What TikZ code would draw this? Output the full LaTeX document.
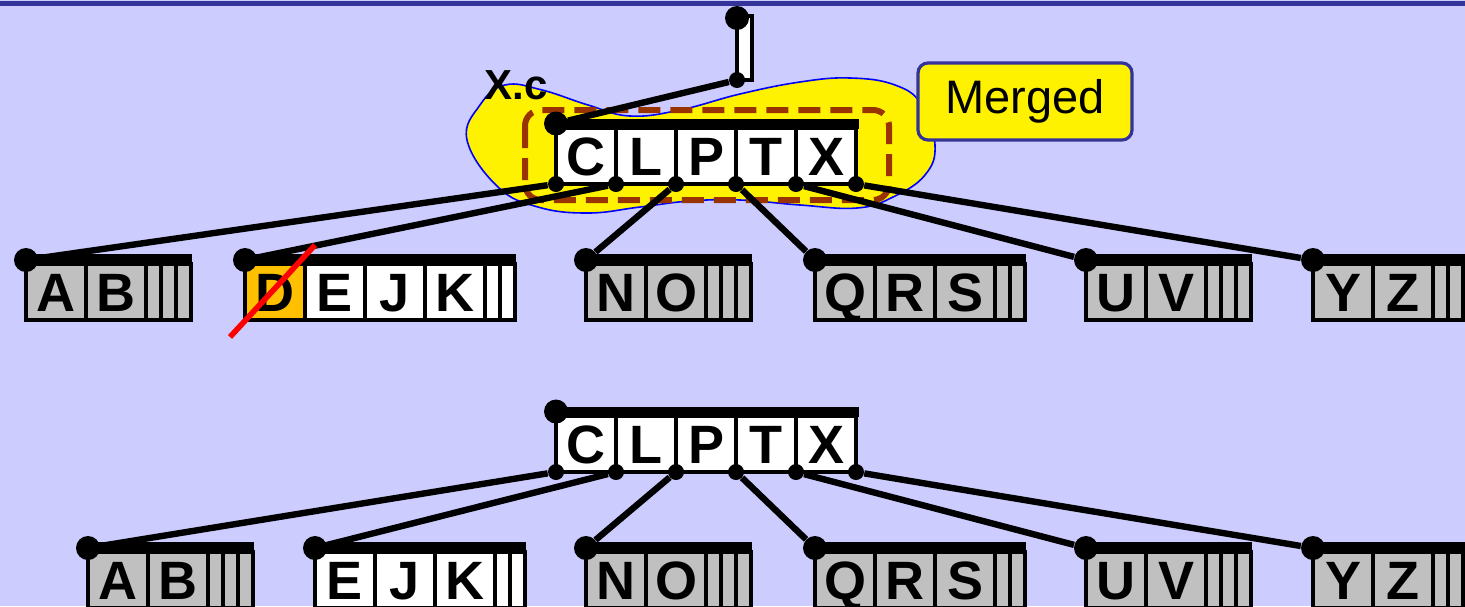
\documentclass[tikz,border=0pt]{standalone}
\usepackage{fontspec}
\setmainfont{Liberation Sans}
\usepackage{tikz}
\usetikzlibrary{positioning, calc}
\definecolor{PageBlue}{HTML}{CCCCFF}
\definecolor{RuleBlue}{HTML}{333399}
\definecolor{LeafGray}{HTML}{C0C0C0}
\definecolor{DelOrange}{HTML}{FFC000}
\definecolor{MergeBrown}{HTML}{993300}

\begin{document}
\begin{tikzpicture}[
    x=0.5pt, y=-0.5pt,
    cell/.style={draw=black, line width=1.8pt, minimum width=30pt, minimum height=28pt, inner sep=0pt, outer sep=0pt, text height=19.3pt, text depth=0pt, anchor=north west, font=\bfseries\fontsize{27}{27}\selectfont},
    slotcell/.style={cell, minimum width=7.5pt},
    bar/.style={line width=5pt},
    link/.style={line width=3.2pt},
    bigdot/.style={circle, fill=black, inner sep=0pt, minimum size=12pt},
    smalldot/.style={circle, fill=black, inner sep=0pt, minimum size=8pt},
    blob/.style={fill=yellow, draw=blue, line width=0.8pt},
    mergebox/.style={draw=MergeBrown, line width=3pt, dash pattern=on 11pt off 5pt, rounded corners=8pt},
    strike/.style={red, line width=2.8pt},
    tag/.style={fill=yellow, draw=RuleBlue, line width=1.6pt, rounded corners=5pt, minimum width=107pt, minimum height=38.5pt, font=\fontsize{23.5}{23.5}\selectfont}
]
% Page
\useasboundingbox (0,0) rectangle (1465,606);
\fill[PageBlue] (0,0) rectangle (1465,606);
\draw[RuleBlue, line width=2.5pt] (0,3.5) -- (1465,3.5);

% Merged area
\draw[blob] plot[smooth cycle, tension=0.7] coordinates {
    (467,140) (480,105) (505,85) (542,90) (588,105) (630,116) (680,110)
    (740,94) (800,82) (850,78) (895,85) (922,105) (935,145) (925,175)
    (893,197) (857,208) (800,205) (740,200) (690,201) (640,207) (588,213)
    (538,207) (498,187)};
\draw[mergebox] (525,110) rectangle (889,200);
\node[font=\bfseries\fontsize{21}{21}\selectfont] (xc) at (516,85) {X.c};

% Pointer to the root
\node[slotcell, fill=white, minimum height=32pt] (rootbox) at (737,16) {};
\node[bigdot] (rootdot) at (737,18) {};
\node[smalldot] (rootp) at (737,80) {};

% Inner nodes: before (ta) and after (tb)
\foreach \t/\dy in {ta/0, tb/288} {
    \foreach \k [count=\i] in {C,L,P,T,X}
        \node[cell, fill=white] (\t-\i) at ({556+60*(\i-1)},{128+\dy}) {\k};
    \draw[bar] (556,{123.5+\dy}) -- ++(303,0);
    \node[bigdot] (\t-dot) at (556,{123.5+\dy}) {};
    \foreach \p in {0,...,5}
        \node[smalldot] (\t-p\p) at ({556+60*\p},{184+\dy}) {};
}

% Leaves: name/x/y/keys/empty slots/fill
\foreach \n/\x/\y/\ks/\e/\f in {
    ab/26/264/{A/LeafGray,B/LeafGray}/3/LeafGray,
    dejk/245/264/{D/DelOrange,E/white,J/white,K/white}/2/white,
    no/586/264/{N/LeafGray,O/LeafGray}/3/LeafGray,
    qrs/815/264/{Q/LeafGray,R/LeafGray,S/LeafGray}/2/LeafGray,
    uv/1086/264/{U/LeafGray,V/LeafGray}/3/LeafGray,
    yz/1313/264/{Y/LeafGray,Z/LeafGray}/3/LeafGray,
    abb/88/552/{A/LeafGray,B/LeafGray}/3/LeafGray,
    ejk/315/552/{E/white,J/white,K/white}/2/white,
    nob/586/552/{N/LeafGray,O/LeafGray}/3/LeafGray,
    qrsb/815/552/{Q/LeafGray,R/LeafGray,S/LeafGray}/2/LeafGray,
    uvb/1086/552/{U/LeafGray,V/LeafGray}/3/LeafGray,
    yzb/1313/552/{Y/LeafGray,Z/LeafGray}/3/LeafGray} {
    \foreach \k/\kc [count=\j] in \ks {
        \node[cell, fill=\kc] (\n-\j) at ({\x+60*(\j-1)},\y) {\k};
        \xdef\nk{\j}
    }
    \foreach \s in {1,...,\e}
        \node[slotcell, fill=\f] (\n-s\s) at ({\x+60*\nk+15*(\s-1)},\y) {};
    \coordinate (\n-in) at (\x,\y-5);
    \draw[bar] (\n-in) -- ++({60*\nk+15*\e+1},0);
    \node[bigdot] (\n-dot) at (\x,\y-4) {};
}

% Links
\draw[link] (rootp) -- (ta-dot);
\foreach \p/\l in {0/ab, 1/dejk, 2/no, 3/qrs, 4/uv, 5/yz}
    \draw[link] (ta-p\p) -- (\l-dot);
\foreach \p/\l in {0/abb, 1/ejk, 2/nob, 3/qrsb, 4/uvb, 5/yzb}
    \draw[link] (tb-p\p) -- (\l-dot);

% D is deleted
\draw[strike] ($(dejk-1.south west)+(-15,17)$) -- ($(dejk-1.north east)+(10,-19)$);

\node[tag] (merged) at (1025,101.5) {Merged};
\end{tikzpicture}
\end{document}
